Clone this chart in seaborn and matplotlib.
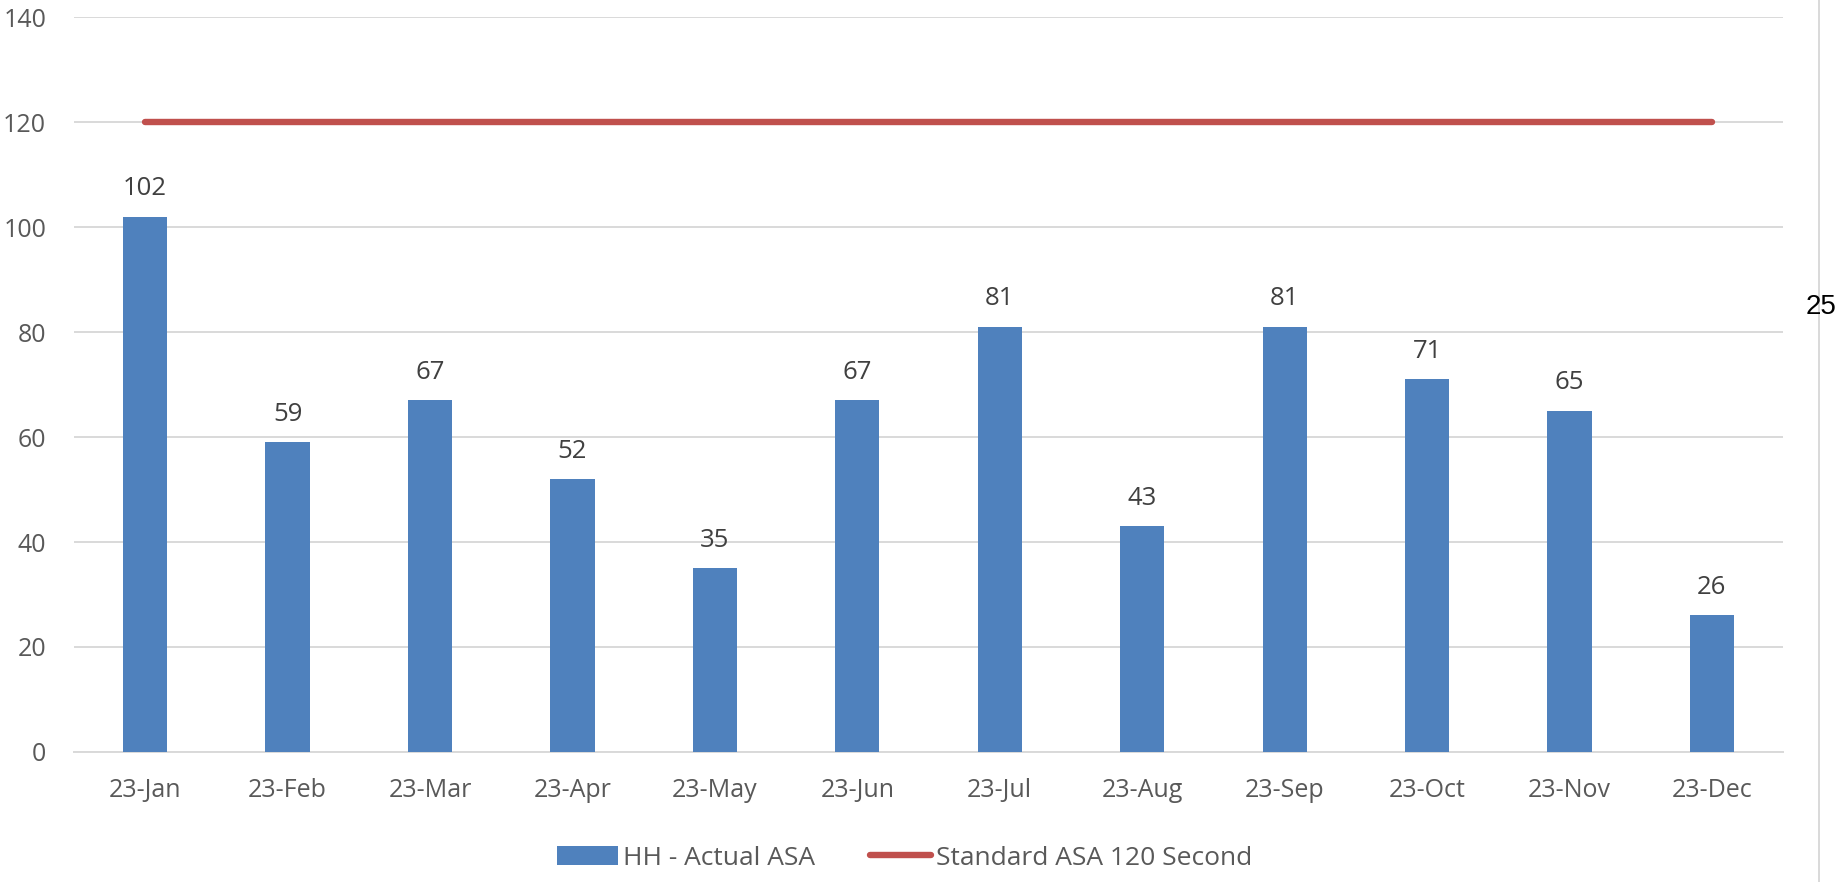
import matplotlib.pyplot as plt
import seaborn as sns
from matplotlib.lines import Line2D

months = ['23-Jan', '23-Feb', '23-Mar', '23-Apr', '23-May', '23-Jun',
          '23-Jul', '23-Aug', '23-Sep', '23-Oct', '23-Nov', '23-Dec']
actual_asa = [102, 59, 67, 52, 35, 67, 81, 43, 81, 71, 65, 26]
standard_asa = [120] * 12
y_ticks = [0, 20, 40, 60, 80, 100, 120, 140]

sns.set_theme(style="white")
plt.rcParams['font.family'] = ['Open Sans', 'DejaVu Sans']

fig = plt.figure(figsize=(18.39, 8.82), dpi=100)
ax = fig.add_axes([0.0402, 0.1474, 0.9294, 0.8333])

sns.barplot(x=months, y=actual_asa, color='#4F81BD', saturation=1,
            width=0.31, ax=ax, label='HH - Actual ASA', zorder=3, linewidth=0)
sns.lineplot(x=months, y=standard_asa, color='#C0504D', linewidth=4.6,
             solid_capstyle='round', ax=ax, label='Standard ASA 120 Second', zorder=4)

# value labels above bars
for i, v in enumerate(actual_asa):
    ax.annotate(str(v), (i, v), xytext=(0, 11), textcoords='offset points',
                ha='center', va='bottom', fontsize=18.5, color='#404040')

ax.set_ylim(0, 140)
ax.set_xlim(-0.5, 11.5)
ax.set_yticks(y_ticks)
ax.grid(axis='y', color='#D9D9D9', linewidth=1.4, zorder=0)
for s in ['top', 'right', 'left']:
    ax.spines[s].set_visible(False)
ax.spines['bottom'].set_color('#D9D9D9')
ax.spines['bottom'].set_linewidth(1.4)
ax.tick_params(axis='y', length=0, pad=20, labelsize=18, labelcolor='#595959')
ax.tick_params(axis='x', length=0, pad=19, labelsize=18, labelcolor='#595959')
ax.set_xlabel('')
ax.set_ylabel('')

handles, labels = ax.get_legend_handles_labels()
order = [labels.index('HH - Actual ASA'), labels.index('Standard ASA 120 Second')]
ax.legend([handles[i] for i in order], [labels[i] for i in order],
          loc='center', bbox_to_anchor=(0.492, 0.027),
          bbox_transform=fig.transFigure, ncol=2, frameon=False, fontsize=19,
          labelcolor='#595959', handlelength=2.3, handleheight=0.75,
          handletextpad=0.2, columnspacing=2.1)

# stray border line and number at the right edge
fig.add_artist(Line2D([0.989, 0.989], [0, 1], transform=fig.transFigure,
                      color='#D9D9D9', linewidth=1.4))
fig.text(0.990, 0.652, '25', ha='center', va='center', fontsize=20,
         color='black', family='Liberation Sans')

plt.savefig('out.png', dpi=100)
